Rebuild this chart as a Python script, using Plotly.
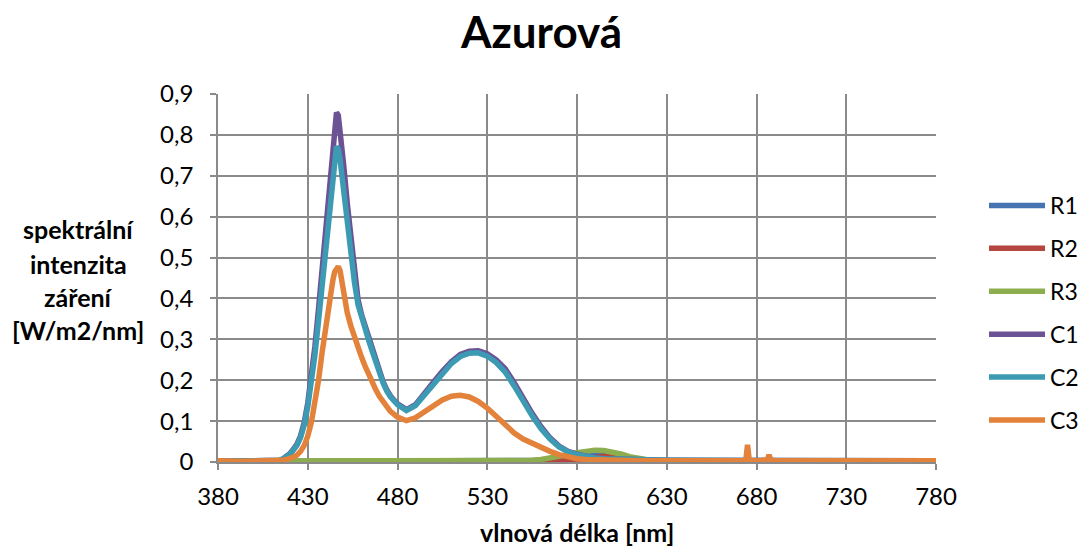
import plotly.graph_objects as go

# wavelength grid [nm]
wl = [380, 385, 390, 395, 400, 405, 410,
      414, 416, 418, 420, 422, 424, 426, 428, 430, 432, 434, 436, 438, 440, 442, 444,
      445, 446, 447,
      448, 450, 452, 454, 456, 458, 460, 462, 464, 466, 468, 470, 472, 474, 476,
      480, 485, 490, 495, 500, 505, 510, 515, 520, 525, 530, 535, 540, 545, 550,
      555, 560, 565, 570, 575, 580, 585, 590, 595, 600, 605, 610, 615, 620, 625,
      630, 635, 640, 645, 650, 655, 660, 665, 670,
      674, 675, 676,
      680, 685, 686, 687, 688, 690,
      695, 700, 705, 710, 715, 720, 725, 730, 735, 740, 745, 750, 755, 760, 765,
      770, 775, 780]

R1 = [0.001, 0.001, 0.001, 0.001, 0.001, 0.001, 0.001,
      0.001, 0.001, 0.001, 0.001, 0.001, 0.001, 0.001, 0.001, 0.001, 0.001, 0.001, 0.001, 0.002, 0.002, 0.002, 0.002,
      0.002, 0.002, 0.002,
      0.002, 0.002, 0.002, 0.001, 0.001, 0.001, 0.001, 0.001, 0.001, 0.001, 0.001, 0.001, 0.001, 0.001, 0.001,
      0.001, 0.001, 0.001, 0.001, 0.001, 0.001, 0.001, 0.001, 0.001, 0.001, 0.001, 0.001, 0.001, 0.001, 0.001,
      0.001, 0.002, 0.004, 0.006, 0.009, 0.013, 0.016, 0.017, 0.016, 0.013, 0.009, 0.006, 0.004, 0.003, 0.002,
      0.002, 0.002, 0.002, 0.002, 0.002, 0.002, 0.002, 0.002, 0.002,
      0.002, 0.002, 0.002,
      0.002, 0.002, 0.002, 0.002, 0.002, 0.002,
      0.002, 0.002, 0.002, 0.002, 0.002, 0.002, 0.002, 0.002, 0.002, 0.002, 0.002, 0.002, 0.002, 0.002, 0.002,
      0.002, 0.002, 0.002]

R2 = [0.001, 0.001, 0.001, 0.001, 0.001, 0.001, 0.001,
      0.001, 0.001, 0.001, 0.001, 0.001, 0.001, 0.001, 0.001, 0.001, 0.002, 0.002, 0.002, 0.002, 0.002, 0.003, 0.003,
      0.003, 0.003, 0.003,
      0.003, 0.003, 0.002, 0.002, 0.002, 0.002, 0.001, 0.001, 0.001, 0.001, 0.001, 0.001, 0.001, 0.001, 0.001,
      0.001, 0.001, 0.001, 0.001, 0.001, 0.001, 0.001, 0.001, 0.001, 0.001, 0.001, 0.001, 0.001, 0.001, 0.001,
      0.001, 0.001, 0.001, 0.002, 0.003, 0.005, 0.008, 0.012, 0.014, 0.013, 0.010, 0.007, 0.004, 0.003, 0.002,
      0.002, 0.002, 0.002, 0.002, 0.002, 0.002, 0.002, 0.002, 0.002,
      0.002, 0.002, 0.002,
      0.002, 0.002, 0.002, 0.002, 0.002, 0.002,
      0.002, 0.002, 0.002, 0.002, 0.002, 0.002, 0.002, 0.002, 0.002, 0.002, 0.002, 0.002, 0.002, 0.002, 0.002,
      0.002, 0.002, 0.002]

R3 = [0.002, 0.002, 0.002, 0.002, 0.002, 0.002, 0.002,
      0.002, 0.002, 0.002, 0.002, 0.002, 0.002, 0.002, 0.003, 0.003, 0.003, 0.004, 0.004, 0.004, 0.004, 0.004, 0.005,
      0.005, 0.005, 0.005,
      0.005, 0.004, 0.004, 0.004, 0.003, 0.003, 0.003, 0.003, 0.002, 0.002, 0.002, 0.002, 0.002, 0.002, 0.002,
      0.002, 0.002, 0.002, 0.002, 0.002, 0.002, 0.002, 0.002, 0.002, 0.002, 0.002, 0.002, 0.002, 0.002, 0.003,
      0.004, 0.006, 0.009, 0.013, 0.018, 0.023, 0.027, 0.029, 0.028, 0.025, 0.019, 0.012, 0.008, 0.005, 0.004,
      0.003, 0.002, 0.002, 0.002, 0.002, 0.002, 0.002, 0.002, 0.002,
      0.002, 0.002, 0.002,
      0.002, 0.002, 0.002, 0.002, 0.002, 0.002,
      0.002, 0.002, 0.002, 0.002, 0.002, 0.002, 0.002, 0.002, 0.002, 0.002, 0.002, 0.002, 0.002, 0.002, 0.002,
      0.002, 0.002, 0.002]

C1 = [0.002, 0.002, 0.002, 0.002, 0.002, 0.003, 0.003,
      0.004, 0.007, 0.012, 0.020, 0.031, 0.044, 0.064, 0.096, 0.144, 0.209, 0.283, 0.374, 0.468, 0.565, 0.668, 0.785,
      0.833, 0.855, 0.848,
      0.815, 0.727, 0.633, 0.548, 0.460, 0.397, 0.360, 0.331, 0.302, 0.275, 0.247, 0.220, 0.196, 0.177, 0.162,
      0.142, 0.128, 0.140, 0.165, 0.195, 0.222, 0.245, 0.263, 0.271, 0.272, 0.265, 0.250, 0.228, 0.194, 0.155,
      0.119, 0.086, 0.059, 0.039, 0.026, 0.019, 0.014, 0.010, 0.008, 0.007, 0.006, 0.005, 0.005, 0.004, 0.004,
      0.004, 0.004, 0.004, 0.004, 0.004, 0.004, 0.004, 0.004, 0.004,
      0.004, 0.005, 0.004,
      0.004, 0.004, 0.004, 0.005, 0.004, 0.004,
      0.004, 0.004, 0.003, 0.003, 0.003, 0.003, 0.003, 0.003, 0.003, 0.003, 0.003, 0.003, 0.003, 0.003, 0.003,
      0.003, 0.003, 0.003]

C2 = [0.002, 0.002, 0.002, 0.002, 0.002, 0.003, 0.003,
      0.004, 0.007, 0.012, 0.019, 0.029, 0.041, 0.060, 0.090, 0.135, 0.195, 0.262, 0.345, 0.430, 0.515, 0.605, 0.705,
      0.750, 0.772, 0.765,
      0.740, 0.665, 0.585, 0.515, 0.440, 0.385, 0.352, 0.325, 0.297, 0.270, 0.243, 0.216, 0.193, 0.174, 0.160,
      0.140, 0.126, 0.138, 0.163, 0.192, 0.218, 0.241, 0.258, 0.266, 0.267, 0.259, 0.243, 0.220, 0.186, 0.147,
      0.113, 0.081, 0.056, 0.037, 0.025, 0.018, 0.013, 0.010, 0.008, 0.007, 0.006, 0.005, 0.005, 0.004, 0.004,
      0.004, 0.004, 0.004, 0.004, 0.004, 0.004, 0.004, 0.004, 0.004,
      0.004, 0.005, 0.004,
      0.004, 0.004, 0.004, 0.005, 0.004, 0.004,
      0.004, 0.004, 0.003, 0.003, 0.003, 0.003, 0.003, 0.003, 0.003, 0.003, 0.003, 0.003, 0.003, 0.003, 0.003,
      0.003, 0.003, 0.003]

C3 = [0.003, 0.004, 0.002, 0.002, 0.002, 0.002, 0.002,
      0.003, 0.004, 0.006, 0.008, 0.012, 0.017, 0.026, 0.040, 0.063, 0.097, 0.145, 0.200, 0.268, 0.333, 0.395, 0.445,
      0.465, 0.476, 0.478,
      0.468, 0.415, 0.365, 0.333, 0.305, 0.280, 0.256, 0.234, 0.213, 0.194, 0.176, 0.160, 0.146, 0.134, 0.124,
      0.110, 0.101, 0.108, 0.122, 0.138, 0.152, 0.161, 0.163, 0.159, 0.148, 0.132, 0.111, 0.090, 0.071, 0.056,
      0.045, 0.035, 0.026, 0.018, 0.012, 0.008, 0.006, 0.005, 0.004, 0.004, 0.003, 0.003, 0.003, 0.003, 0.003,
      0.003, 0.003, 0.003, 0.003, 0.003, 0.003, 0.003, 0.003, 0.003,
      0.003, 0.042, 0.003,
      0.003, 0.003, 0.005, 0.017, 0.005, 0.003,
      0.003, 0.003, 0.003, 0.003, 0.003, 0.003, 0.003, 0.003, 0.003, 0.003, 0.003, 0.003, 0.003, 0.003, 0.003,
      0.003, 0.003, 0.003]

series_names = ["R1", "R2", "R3", "C1", "C2", "C3"]
series_values = [R1, R2, R3, C1, C2, C3]
series_colors = ["#4674B2", "#B4453F", "#8DAE4E", "#6D5195", "#3D9AB3", "#E3823A"]

y_title_lines = ["spektrální", "intenzita", "záření", "[W/m2/nm]"]
x_title = "vlnová délka [nm]"
chart_title = "Azurová"

FONT = "Lato"
GRID = "#8a8a8a"
W, H = 1083, 549
ML, MR, MT, MB = 218, 147, 94, 87
PW, PH = W - ML - MR, H - MT - MB

fig = go.Figure()
for name, vals, color in zip(series_names, series_values, series_colors):
    fig.add_trace(go.Scatter(
        x=wl, y=vals, mode="lines", name=name, legendgroup=name,
        line=dict(color=color, width=5.5),
    ))

axis_common = dict(
    showgrid=True, gridcolor=GRID, gridwidth=1.6,
    showline=True, linecolor=GRID, linewidth=1.6,
    ticks="outside", ticklen=6, tickcolor=GRID, tickwidth=1.6,
    tickfont=dict(family=FONT, size=24, color="black"),
    zeroline=False,
)

fig.update_layout(
    width=W, height=H,
    margin=dict(l=ML, r=MR, t=MT, b=MB),
    paper_bgcolor="white", plot_bgcolor="white",
    separators=", ",
    title=dict(text=chart_title, x=0.5, xref="container", xanchor="center",
               y=1 - 33 / H, yref="container", yanchor="middle",
               font=dict(family=FONT, size=44, color="black", weight="bold")),
    xaxis=dict(range=[380, 780], tick0=380, dtick=50, ticklabelstandoff=6, **axis_common),
    yaxis=dict(range=[0, 0.9], tick0=0, dtick=0.1, ticklabelstandoff=12, **axis_common),
    legend=dict(x=984 / W, xref="container", xanchor="left",
                y=1 - 184 / H, yref="container", yanchor="top",
                font=dict(family=FONT, size=23, color="black"),
                itemwidth=56, tracegroupgap=10, bgcolor="rgba(0,0,0,0)"),
    showlegend=True,
)

y_line_pos = [229, 264, 297, 330]
for txt, py in zip(y_title_lines, y_line_pos):
    fig.add_annotation(text=txt, xref="paper", yref="paper",
                       x=(78 - ML) / PW, y=(H - MB - py) / PH,
                       xanchor="center", yanchor="middle", showarrow=False,
                       font=dict(family=FONT, size=25, color="black", weight="bold"))

fig.add_annotation(text=x_title, xref="paper", yref="paper",
                   x=(577 - ML) / PW, y=(H - MB - 532) / PH,
                   xanchor="center", yanchor="middle", showarrow=False,
                   borderpad=0,
                   font=dict(family=FONT, size=25, color="black", weight="bold"))

fig.write_html("out.html")
